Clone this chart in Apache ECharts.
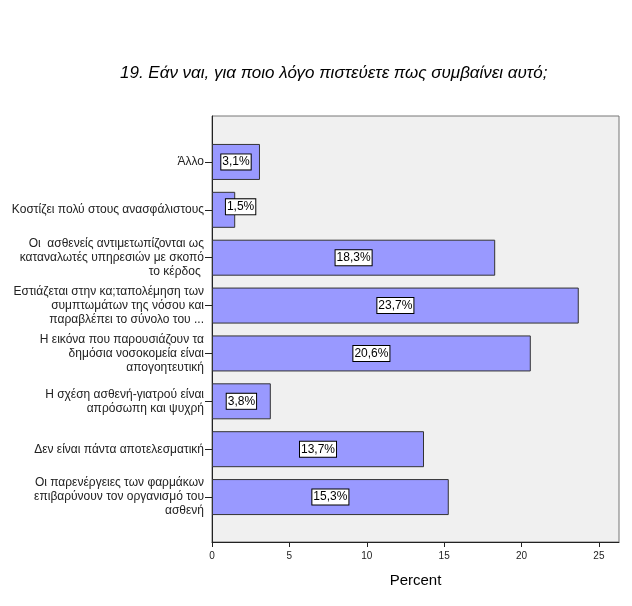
<!DOCTYPE html>
<html>
<head>
<meta charset="utf-8">
<script src="https://cdn.jsdelivr.net/npm/echarts@6/dist/echarts.min.js"></script>
<style>html,body{margin:0;padding:0;background:#fff}#c{width:632px;height:606px}</style>
</head>
<body>
<div id="c"></div>
<script>
var titleText = "19. Εάν ναι, για ποιο λόγο πιστεύετε πως συμβαίνει αυτό;";
var categories = [
  "Άλλο",
  "Κοστίζει πολύ στους ανασφάλιστους",
  "Οι  ασθενείς αντιμετωπίζονται ως\nκαταναλωτές υπηρεσιών με σκοπό\nτο κέρδος ",
  "Εστιάζεται στην κα;ταπολέμηση των\nσυμπτωμάτων της νόσου και\nπαραβλέπει το σύνολο του ...",
  "Η εικόνα που παρουσιάζουν τα\nδημόσια νοσοκομεία είναι\nαπογοητευτική",
  "Η σχέση ασθενή-γιατρού είναι\nαπρόσωπη και ψυχρή",
  "Δεν είναι πάντα αποτελεσματική",
  "Οι παρενέργειες των φαρμάκων\nεπιβαρύνουν τον οργανισμό του\nασθενή"
];
var percentValues = [3.1, 1.5, 18.3, 23.7, 20.6, 3.8, 13.7, 15.3];
var xTickInterval = 5;
var xMax = 26.3;
var xAxisName = "Percent";

var FONT = "'Liberation Sans', Arial, sans-serif";
var chart = echarts.init(document.getElementById('c'), null, {renderer: 'canvas'});

var barData = percentValues.map(function (v) {
  var item = {value: v};
  if (v < 2) { item.label = {offset: [17, -3]}; }
  return item;
});

chart.setOption({
  animation: false,
  backgroundColor: '#ffffff',
  title: {
    text: titleText,
    left: 115, top: 60,
    textStyle: {fontFamily: FONT, fontStyle: 'italic', fontWeight: 'normal', fontSize: 17, color: '#000'}
  },
  grid: [
    {left: 212, right: 13, top: 116, bottom: 64, show: true, backgroundColor: '#f0f0f0', borderColor: '#777', borderWidth: 1},
    {left: 212, right: 13, top: 138, bottom: 85}
  ],
  xAxis: [
    {
      type: 'value', gridIndex: 0, min: 0, max: xMax, interval: xTickInterval,
      name: xAxisName, nameLocation: 'middle', nameGap: 31,
      nameTextStyle: {fontFamily: FONT, fontSize: 15, color: '#000'},
      axisLine: {show: true, lineStyle: {color: '#222', width: 1}},
      axisTick: {show: true, length: 5, lineStyle: {color: '#222'}},
      axisLabel: {fontFamily: FONT, fontSize: 10, color: '#222', margin: 9, showMaxLabel: false},
      splitLine: {show: false}
    },
    {type: 'value', gridIndex: 1, min: 0, max: xMax, show: false}
  ],
  yAxis: [
    {
      type: 'value', gridIndex: 0, min: 0, max: 1,
      axisLine: {show: true, lineStyle: {color: '#222', width: 1}},
      axisTick: {show: false}, axisLabel: {show: false}, splitLine: {show: false}
    },
    {
      type: 'category', gridIndex: 1, inverse: true, data: categories,
      axisLine: {show: false},
      axisTick: {show: true, alignWithLabel: true, length: 7, lineStyle: {color: '#222'}},
      axisLabel: {fontFamily: FONT, fontSize: 12, color: '#222', lineHeight: 14, margin: 8, align: 'right'},
      splitLine: {show: false}
    }
  ],
  series: [{
    type: 'bar', xAxisIndex: 1, yAxisIndex: 1,
    data: barData,
    barWidth: 36,
    itemStyle: {color: '#9999ff', borderColor: '#333', borderWidth: 1},
    label: {
      show: true, position: 'inside',
      formatter: function (p) { return p.value.toFixed(1).replace('.', ',') + '%'; },
      fontFamily: FONT, fontSize: 12, color: '#000',
      backgroundColor: '#fff', borderColor: '#000', borderWidth: 1, padding: [2, 1, 1, 1]
    }
  }]
});
</script>
</body>
</html>
